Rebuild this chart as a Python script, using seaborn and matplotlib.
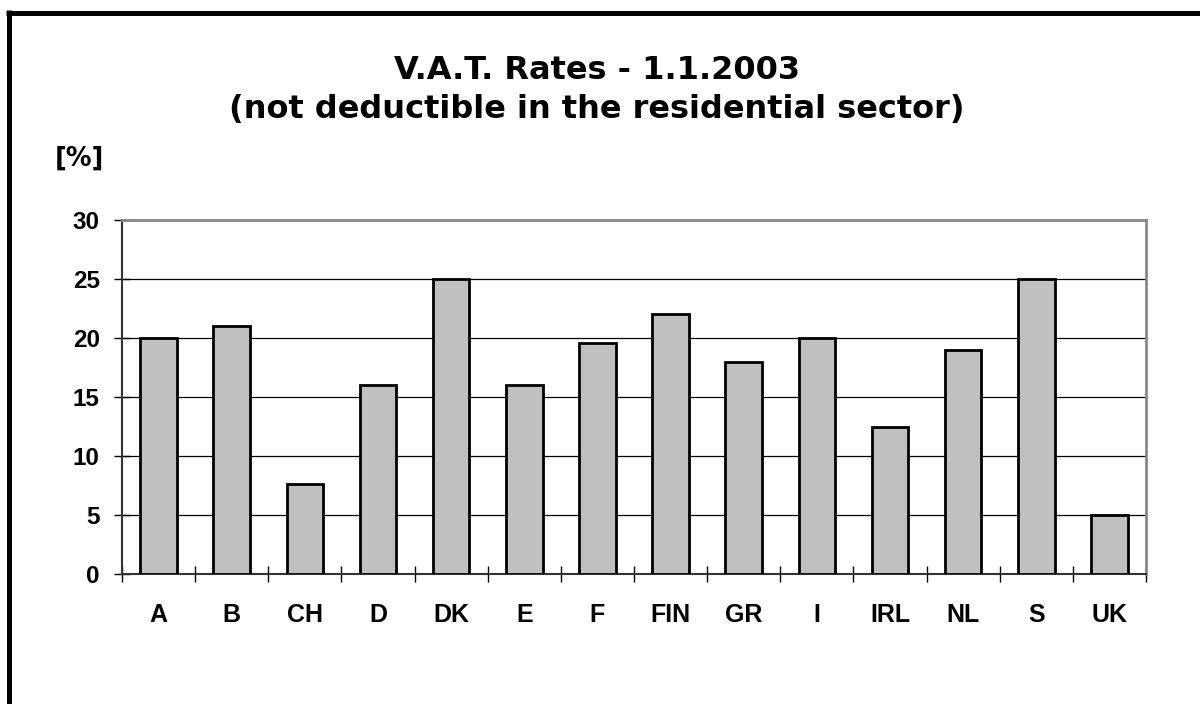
import matplotlib
matplotlib.use('Agg')
import matplotlib.pyplot as plt
import seaborn as sns
import pandas as pd
from matplotlib.lines import Line2D

countries = ['A', 'B', 'CH', 'D', 'DK', 'E', 'F', 'FIN', 'GR', 'I', 'IRL', 'NL', 'S', 'UK']
vat_rates = [20, 21, 7.6, 16, 25, 16, 19.6, 22, 18, 20, 12.5, 19, 25, 5]
y_ticks = [0, 5, 10, 15, 20, 25, 30]
title_line1 = 'V.A.T. Rates - 1.1.2003'
title_line2 = '(not deductible in the residential sector)'
unit_label = '[%]'

sns.set_theme(style='white')
plt.rcParams['font.family'] = ['Liberation Sans', 'DejaVu Sans']
plt.rcParams['font.weight'] = 'bold'
plt.rcParams['text.color'] = 'black'
plt.rcParams['xtick.color'] = 'black'
plt.rcParams['ytick.color'] = 'black'
plt.rcParams['axes.labelcolor'] = 'black'

W, H = 1200, 704
fig = plt.figure(figsize=(W / 100, H / 100), dpi=100)
fig.patch.set_facecolor('white')
ax = fig.add_axes([122 / W, 1 - 574 / H, (1146 - 122) / W, (574 - 220) / H])

df = pd.DataFrame({'country': countries, 'rate': vat_rates})
sns.barplot(data=df, x='country', y='rate', color='#C0C0C0', saturation=1,
            width=0.5, edgecolor='black', linewidth=2, ax=ax, zorder=3)

ax.set_xlim(-0.5, len(countries) - 0.5)
ax.set_ylim(0, 30)
ax.set_yticks(y_ticks)
ax.set_xlabel('')
ax.set_ylabel('')
ax.yaxis.grid(True, color='black', linewidth=0.9)
ax.xaxis.grid(False)
ax.set_axisbelow(True)

ax.tick_params(axis='y', direction='inout', length=12, width=1, pad=10,
               labelsize=17.5, left=True, colors='black')
ax.tick_params(axis='x', which='major', length=0, pad=21, labelsize=18, colors='black')
ax.set_xticks([i - 0.5 for i in range(len(countries) + 1)], minor=True)
ax.tick_params(axis='x', which='minor', direction='inout', length=12, width=1,
               bottom=True, color='black')

for side in ['left', 'bottom']:
    ax.spines[side].set_visible(True)
    ax.spines[side].set_color('#333333')
    ax.spines[side].set_linewidth(1.5)
for side in ['top', 'right']:
    ax.spines[side].set_visible(True)
    ax.spines[side].set_color('#888888')
    ax.spines[side].set_linewidth(2)

fig.text(597 / W, 1 - 79 / H, title_line1, ha='center', va='baseline', color='black',
         fontsize=23, fontweight='bold', family=['DejaVu Sans'])
fig.text(597 / W, 1 - 118 / H, title_line2, ha='center', va='baseline', color='black',
         fontsize=23, fontweight='bold', family=['DejaVu Sans'])
fig.text(79 / W, 1 - 158.5 / H, unit_label, ha='center', va='center', color='black',
         fontsize=18.5, fontweight='bold', family=['DejaVu Sans'])

fig.add_artist(Line2D([8.5 / W, 8.5 / W], [0, 1 - 10 / H], transform=fig.transFigure,
                      color='black', linewidth=3.6, solid_capstyle='butt'))
fig.add_artist(Line2D([6 / W, 1], [1 - 12.5 / H, 1 - 12.5 / H], transform=fig.transFigure,
                      color='black', linewidth=3.6, solid_capstyle='butt'))

fig.savefig('out.png', dpi=100)
